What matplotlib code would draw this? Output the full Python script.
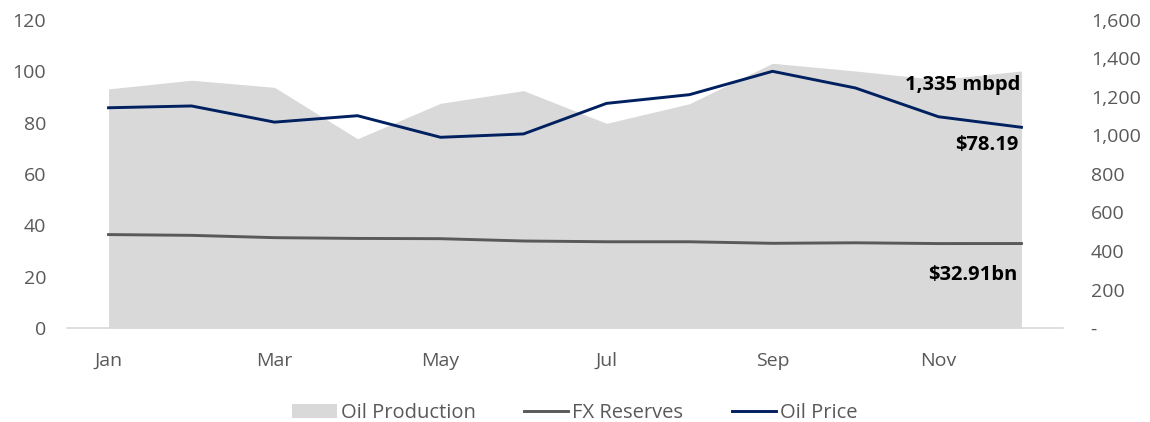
import matplotlib.pyplot as plt
from matplotlib.patches import Patch
from matplotlib.lines import Line2D
from matplotlib.ticker import FuncFormatter

plt.rcParams['font.family'] = ['Open Sans', 'DejaVu Sans']

months = ['Jan', 'Feb', 'Mar', 'Apr', 'May', 'Jun',
          'Jul', 'Aug', 'Sep', 'Oct', 'Nov', 'Dec']
oil_production = [1242, 1287, 1250, 983, 1167, 1233, 1063, 1165, 1375, 1335, 1290, 1335]
fx_reserves = [36.4, 36.1, 35.2, 34.9, 34.8, 33.9, 33.6, 33.6, 33.0, 33.2, 32.9, 32.91]
oil_price = [85.8, 86.5, 80.2, 82.7, 74.3, 75.6, 87.5, 90.9, 100.0, 93.5, 82.3, 78.19]

x = list(range(len(months)))
tick_col = '#595959'
lw = 2.1

fig = plt.figure(figsize=(11.5, 4.22), dpi=100)
ax = fig.add_axes([0.0583, 0.2227, 0.866, 0.73])
ax2 = ax.twinx()

# area on the secondary axis, behind the lines
ax2.fill_between(x, oil_production, 0, color='#d9d9d9', linewidth=0)
ax2.set_ylim(0, 1600)
ax2.set_yticks(range(0, 1601, 200))
ax2.yaxis.set_major_formatter(FuncFormatter(lambda v, p: '-' if v == 0 else f'{int(v):,}'))

ax.set_zorder(ax2.get_zorder() + 1)
ax.patch.set_visible(False)

ax.plot(x, fx_reserves, color='#595959', linewidth=lw)
ax.plot(x, oil_price, color='#002060', linewidth=lw)
ax.set_ylim(0, 120)
ax.set_yticks(range(0, 121, 20))
ax.set_xlim(-0.5, 11.5)
ax.set_xticks(x[::2])
ax.set_xticklabels(months[::2])

for a in (ax, ax2):
    for s in a.spines.values():
        s.set_visible(False)
    a.tick_params(length=0, labelsize=14, colors=tick_col)
ax.spines['bottom'].set_visible(True)
ax.spines['bottom'].set_color('#d9d9d9')
ax.spines['bottom'].set_linewidth(1.2)
ax.tick_params(axis='y', pad=15)
ax2.tick_params(axis='y', pad=20)
ax.tick_params(axis='x', pad=17)

# end labels
ax2.annotate(f'{oil_production[-1]:,} mbpd', xy=(11, oil_production[-1]), xytext=(-1, -10),
             textcoords='offset points', ha='right', va='center',
             fontsize=14.5, fontweight='bold', color='black')
ax.annotate(f'${oil_price[-1]:.2f}', xy=(11, oil_price[-1]), xytext=(-2, -13),
            textcoords='offset points', ha='right', va='center',
            fontsize=14.5, fontweight='bold', color='black')
ax.annotate(f'${fx_reserves[-1]:.2f}bn', xy=(11, fx_reserves[-1]), xytext=(-3, -23),
            textcoords='offset points', ha='right', va='center',
            fontsize=14.5, fontweight='bold', color='black')

handles = [Patch(facecolor='#d9d9d9', edgecolor='none'),
           Line2D([], [], color='#595959', linewidth=lw),
           Line2D([], [], color='#002060', linewidth=lw)]
fig.legend(handles, ['Oil Production', 'FX Reserves', 'Oil Price'],
           loc='center', bbox_to_anchor=(0.5, 0.022), ncol=3, frameon=False,
           fontsize=14.5, labelcolor=tick_col, handlelength=2.2, handletextpad=0.2,
           columnspacing=2.4)

fig.savefig('out.png', dpi=100)
